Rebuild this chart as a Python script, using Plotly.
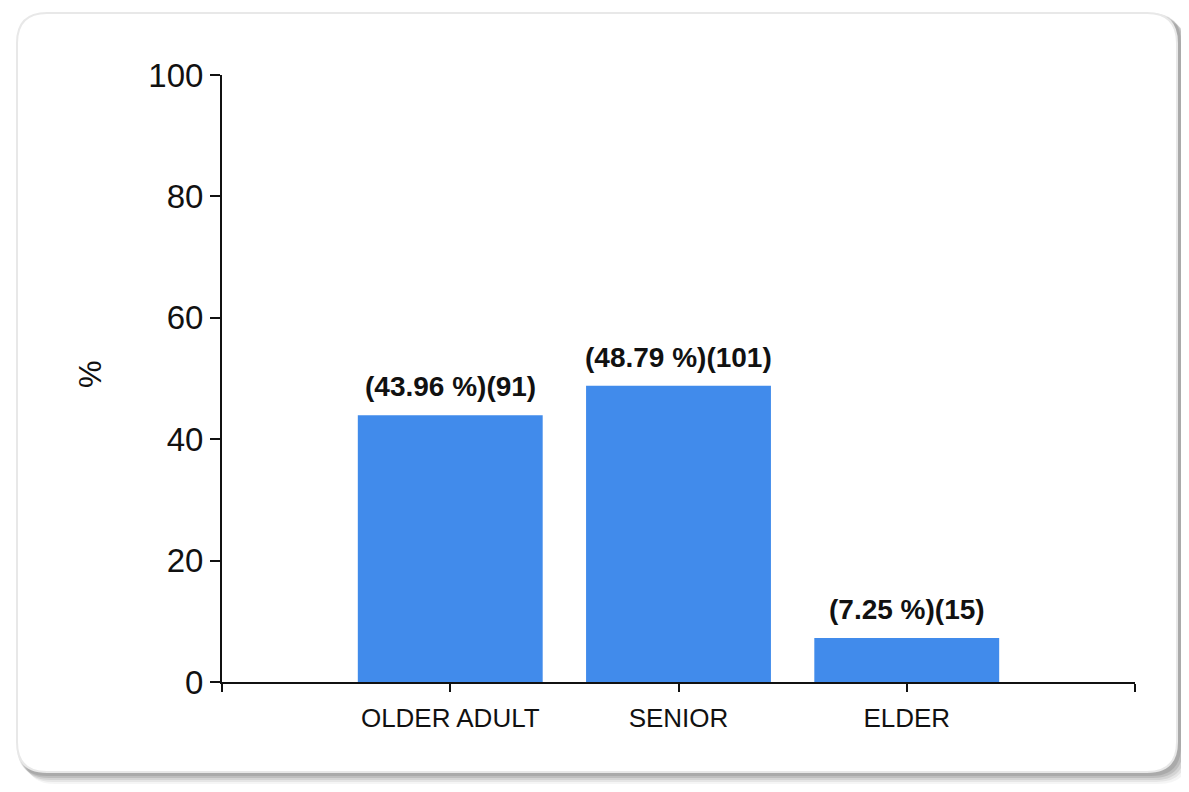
import plotly.graph_objects as go

# ---- data ----
categories = ["OLDER ADULT", "SENIOR", "ELDER"]
percents = [43.96, 48.79, 7.25]
counts = [91, 101, 15]
y_ticks = [0, 20, 40, 60, 80, 100]

OFF = 8  # page body margin
W, H = 1189 - OFF, 792 - OFF
ML, MR, MT, MB = 222 - OFF, 54, 75 - OFF, 110
PW, PH = W - ML - MR, H - MT - MB

def px(x):
    return (x - OFF - ML) / PW

def py(y):
    return 1 - (y - OFF - MT) / PH

def rounded(x0, y0, x1, y1, r):
    pts = [
        f"M {px(x0 + r)},{py(y0)}",
        f"L {px(x1 - r)},{py(y0)}",
        f"Q {px(x1)},{py(y0)} {px(x1)},{py(y0 + r)}",
        f"L {px(x1)},{py(y1 - r)}",
        f"Q {px(x1)},{py(y1)} {px(x1 - r)},{py(y1)}",
        f"L {px(x0 + r)},{py(y1)}",
        f"Q {px(x0)},{py(y1)} {px(x0)},{py(y1 - r)}",
        f"L {px(x0)},{py(y0 + r)}",
        f"Q {px(x0)},{py(y0)} {px(x0 + r)},{py(y0)}",
        "Z",
    ]
    return " ".join(pts)

shapes = []
# soft shadow layers
for dx, dy, col in [(12, 12, "rgba(0,0,0,0.04)"), (10, 10, "rgba(0,0,0,0.06)"),
                    (8, 8, "rgba(0,0,0,0.08)"), (6, 6, "rgba(0,0,0,0.10)"),
                    (4, 4, "rgba(0,0,0,0.10)")]:
    shapes.append(dict(type="path", xref="paper", yref="paper", layer="below",
                       path=rounded(17 + dx - 4, 13 + dy - 4, 1177 + dx, 772 + dy, 30),
                       fillcolor=col, line=dict(width=0)))
# card
shapes.append(dict(type="path", xref="paper", yref="paper", layer="below",
                   path=rounded(17, 13, 1177, 772, 30),
                   fillcolor="white", line=dict(color="#e8e8e8", width=2)))

xpos = [i + 1 for i in range(len(categories))]

fig = go.Figure()
fig.add_trace(go.Bar(
    x=xpos, y=percents, width=0.81,
    marker=dict(color="#418BEB", line=dict(width=0)),
    hoverinfo="skip",
))

annotations = []
for x, p, c in zip(xpos, percents, counts):
    annotations.append(dict(
        x=x, y=p, xref="x", yref="y", yanchor="bottom", yshift=11,
        text=f"({p:.2f} %)({c})", showarrow=False,
        font=dict(family="Liberation Sans, Arial", size=28, color="#111111", weight="bold"),
    ))
annotations.append(dict(
    x=px(90), y=py(374), xref="paper", yref="paper", text="%", textangle=-90,
    xanchor="center", yanchor="middle",
    showarrow=False, font=dict(family="Liberation Sans, Arial", size=31, color="#111111"),
))

fig.update_layout(
    width=W, height=H,
    margin=dict(l=ML, r=MR, t=MT, b=MB, pad=0),
    paper_bgcolor="white", plot_bgcolor="rgba(0,0,0,0)",
    showlegend=False,
    shapes=shapes,
    annotations=annotations,
    xaxis=dict(
        range=[0, 4], tickmode="array", tickvals=[0] + xpos + [4],
        ticktext=[""] + categories + [""],
        showline=True, linecolor="#111111", linewidth=2,
        ticks="outside", ticklen=8, tickwidth=2, tickcolor="#111111",
        ticklabelstandoff=4,
        showgrid=False, zeroline=False,
        tickfont=dict(family="Liberation Sans, Arial", size=26, color="#111111"),
    ),
    yaxis=dict(
        range=[0, 100], tickmode="array", tickvals=y_ticks,
        showline=True, linecolor="#111111", linewidth=2,
        ticks="outside", ticklen=10, tickwidth=2, tickcolor="#111111",
        showgrid=False, zeroline=False,
        tickfont=dict(family="Liberation Sans, Arial", size=33, color="#111111"),
    ),
)

fig.write_html("out.html")
